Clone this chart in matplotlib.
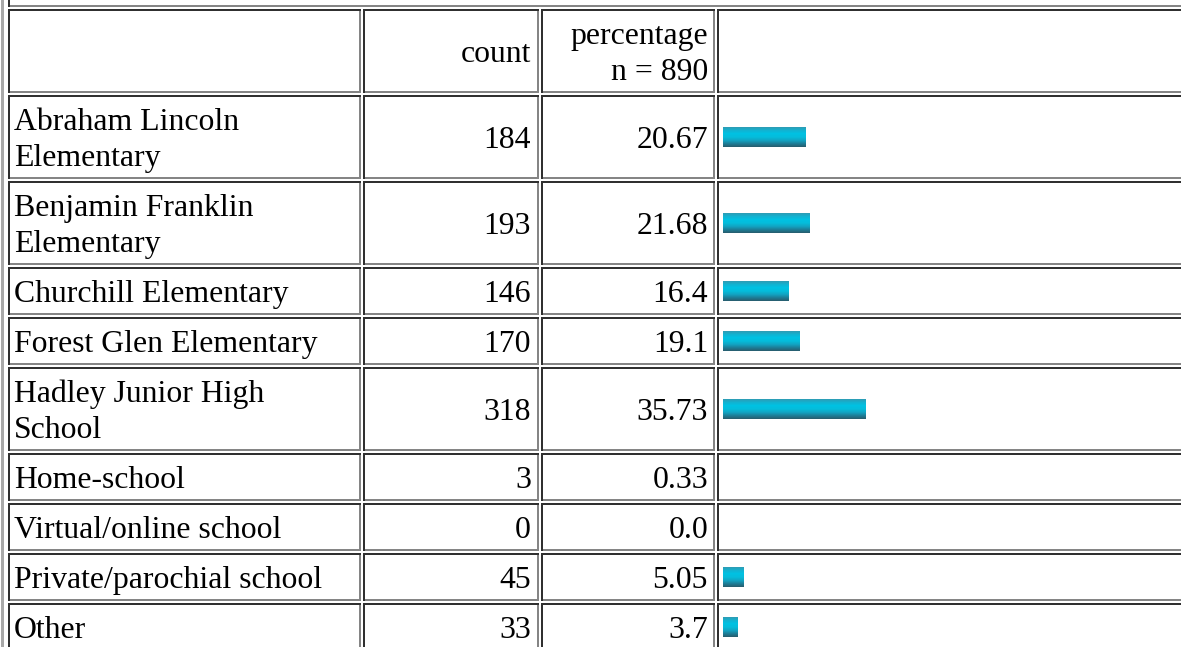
import numpy as np
import matplotlib
matplotlib.use("Agg")
import matplotlib.pyplot as plt
from matplotlib.patches import Rectangle
from matplotlib.colors import LinearSegmentedColormap

# ---- data ----
schools = ["Abraham Lincoln\nElementary", "Benjamin Franklin\nElementary",
           "Churchill Elementary", "Forest Glen Elementary",
           "Hadley Junior High\nSchool", "Home-school", "Virtual/online school",
           "Private/parochial school", "Other"]
counts = [184, 193, 146, 170, 318, 3, 0, 45, 33]
pct_labels = ["20.67", "21.68", "16.4", "19.1", "35.73", "0.33", "0.0", "5.05", "3.7"]
percentages = [float(s) for s in pct_labels]
header_count = "count"
header_pct = "percentage\nn = 890"

# ---- figure in pixel coordinates ----
W, H = 1181, 647
fig = plt.figure(figsize=(W / 100, H / 100), dpi=100)
ax = fig.add_axes([0, 0, 1, 1])
ax.set_xlim(0, W)
ax.set_ylim(H, 0)
ax.axis("off")

DARK = "#303030"
GRAY = "#858585"
OUTER = "#a8a8a8"
FONT = "Liberation Serif"
FS = 31.8 * 72 / 100
LINE = 36

cols = [(8, 361), (363, 539), (541, 715), (717, 1200)]


def cell(x0, x1, y0, y1):
    ax.add_patch(Rectangle((x0, y1 - 2), x1 - x0, 2, color=GRAY, lw=0))
    ax.add_patch(Rectangle((x1 - 2, y0), 2, y1 - y0, color=GRAY, lw=0))
    ax.add_patch(Rectangle((x0, y0), x1 - x0, 2, color=DARK, lw=0))
    ax.add_patch(Rectangle((x0, y0), 2, y1 - y0, color=DARK, lw=0))


def text(x, yc, s, ha):
    lines = s.split("\n")
    n = len(lines)
    for i, ln in enumerate(lines):
        lc = yc + (i - (n - 1) / 2) * LINE
        ax.text(x, lc + 11, ln, ha=ha, va="baseline", fontsize=FS,
                family=FONT, color="black")


# outer table border and cropped row above
ax.add_patch(Rectangle((1, 0), 3, H, color=OUTER, lw=0))
cell(8, 1200, -60, 7)

# gradient for bars
cmap = LinearSegmentedColormap.from_list("bar", [
    (0.00, (0.17, 0.62, 0.72)),
    (0.15, (0.07, 0.70, 0.82)),
    (0.32, (0.00, 0.76, 0.89)),
    (0.50, (0.02, 0.74, 0.86)),
    (0.68, (0.07, 0.64, 0.76)),
    (0.84, (0.11, 0.50, 0.60)),
    (1.00, (0.15, 0.38, 0.45)),
])
grad = np.linspace(0, 1, 20).reshape(-1, 1)

# header row
y = 9
hh = 84
for (x0, x1) in cols:
    cell(x0, x1, y, y + hh)
text(531, y + hh / 2, header_count, "right")
text(708, y + hh / 2, header_pct, "right")
y += hh + 2

for name, c, pl, p in zip(schools, counts, pct_labels, percentages):
    nl = name.count("\n") + 1
    h = 48 if nl == 1 else 84
    for (x0, x1) in cols:
        cell(x0, x1, y, y + h)
    yc = y + h / 2
    text(14, yc, name, "left")
    text(531, yc, str(c), "right")
    text(708, yc, pl, "right")
    bw = p * 4.0
    if bw >= 2:
        ax.imshow(grad, cmap=cmap, aspect="auto", interpolation="nearest",
                  extent=(723, 723 + bw, yc + 10, yc - 10), zorder=3)
    y += h + 2

ax.set_xlim(0, W)
ax.set_ylim(H, 0)
fig.savefig("out.png", dpi=100)
